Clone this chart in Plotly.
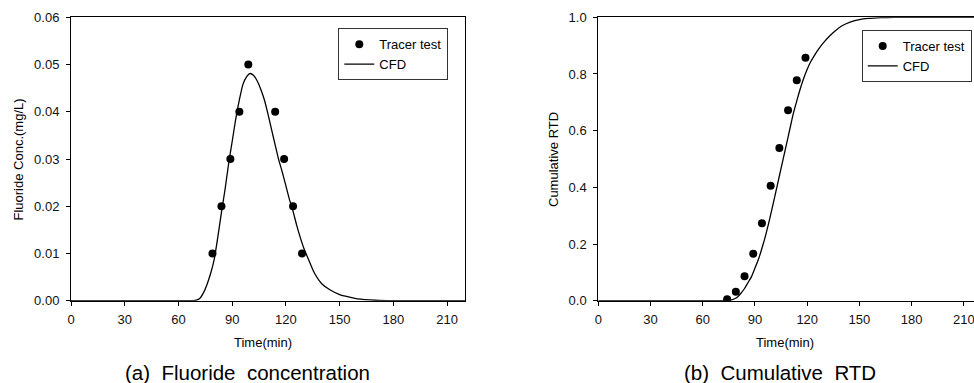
import plotly.graph_objects as go

# ---------------- data ----------------
# (a) Fluoride concentration
tracer_time_a = [79, 84, 89, 94, 99, 114, 119, 124, 129]
tracer_conc = [0.01, 0.02, 0.03, 0.04, 0.05, 0.04, 0.03, 0.02, 0.01]

cfd_time_a = [0, 60, 68, 70, 72, 74, 76, 78, 80, 82, 84, 86, 88, 90, 92, 94, 96, 98,
              100, 102, 104, 106, 108, 110, 112, 114, 116, 118, 120, 122, 124, 126,
              128, 130, 133, 136, 140, 145, 150, 155, 160, 170, 180, 220]
cfd_conc = [0, 0, 0, 0.0001, 0.0005, 0.0017, 0.0035, 0.0058, 0.0088, 0.0135, 0.0187,
            0.0235, 0.0290, 0.0337, 0.0385, 0.0425, 0.0458, 0.0474, 0.0481, 0.0477,
            0.0465, 0.0447, 0.0425, 0.0395, 0.0362, 0.0330, 0.0298, 0.0272, 0.0243,
            0.0214, 0.0189, 0.0160, 0.0134, 0.0111, 0.0084, 0.0058, 0.0036, 0.0022,
            0.0013, 0.0008, 0.0004, 0.0001, 0, 0]

# (b) Cumulative RTD
tracer_time_b = [74, 79, 84, 89, 94, 99, 104, 109, 114, 119]
tracer_cum = [0.005, 0.032, 0.086, 0.166, 0.273, 0.406, 0.539, 0.672, 0.778, 0.857]

cfd_time_b = [0, 60, 70, 74, 76, 78, 80, 82, 84, 86, 88, 90, 92, 94, 96, 98, 100, 102,
              104, 106, 108, 110, 112, 114, 116, 118, 120, 122, 124, 126, 128, 130,
              133, 136, 140, 145, 150, 155, 160, 165, 170, 220]
cfd_cum = [0, 0, 0, 0.0005, 0.002, 0.006, 0.013, 0.027, 0.043, 0.064, 0.085, 0.115,
           0.146, 0.185, 0.228, 0.277, 0.330, 0.385, 0.440, 0.495, 0.550, 0.605, 0.660,
           0.705, 0.748, 0.785, 0.817, 0.843, 0.864, 0.883, 0.900, 0.915, 0.935, 0.952,
           0.970, 0.984, 0.992, 0.996, 0.998, 0.999, 1.0, 1.0]

x_ticks = [0, 30, 60, 90, 120, 150, 180, 210]

# ---------------- figure ----------------
W, H = 974, 383
FONT = "Liberation Sans, Arial, sans-serif"

def px_x(p):
    return p / W

def px_y(p):
    return 1 - p / H

fig = go.Figure()

fig.add_trace(go.Scatter(x=tracer_time_a, y=tracer_conc, mode="markers", name="Tracer test",
                         marker=dict(color="black", size=8), xaxis="x", yaxis="y",
                         legend="legend"))
fig.add_trace(go.Scatter(x=cfd_time_a, y=cfd_conc, mode="lines", name="CFD",
                         line=dict(color="black", width=1.3, shape="spline", smoothing=0.6),
                         xaxis="x", yaxis="y", legend="legend"))
fig.add_trace(go.Scatter(x=tracer_time_b, y=tracer_cum, mode="markers", name="Tracer test",
                         marker=dict(color="black", size=8), xaxis="x2", yaxis="y2",
                         legend="legend2"))
fig.add_trace(go.Scatter(x=cfd_time_b, y=cfd_cum, mode="lines", name="CFD",
                         line=dict(color="black", width=1.3, shape="spline", smoothing=0.6),
                         xaxis="x2", yaxis="y2", legend="legend2"))

axis_common = dict(showgrid=False, zeroline=False, showline=True, linecolor="black",
                   linewidth=1, ticks="outside", ticklen=4, tickcolor="black",
                   tickfont=dict(family=FONT, size=13, color="#111"))

ydom = [px_y(300.7), px_y(17.3)]

fig.update_layout(
    width=W, height=H,
    paper_bgcolor="white", plot_bgcolor="white",
    margin=dict(l=0, r=0, t=0, b=0, autoexpand=False),
    font=dict(family=FONT, size=13, color="black"),
    xaxis=dict(domain=[px_x(71), px_x(465)], range=[0, 220], tickvals=x_ticks,
               mirror=True, anchor="y", ticklabelstandoff=3, **axis_common),
    yaxis=dict(domain=ydom, range=[0, 0.06], dtick=0.01, tickformat=".2f",
               mirror=True, anchor="x", ticklabelstandoff=4, **axis_common),
    xaxis2=dict(domain=[px_x(598.3), 1.0], range=[0, (974 - 598.3) / 1.741],
                tickvals=x_ticks, mirror=True, anchor="y2", ticklabelstandoff=3,
                ticklabeloverflow="allow", **axis_common),
    yaxis2=dict(domain=ydom, range=[0, 1.0], dtick=0.2, tickformat=".1f",
                mirror=False, anchor="x2", ticklabelstandoff=4, **axis_common),
    legend=dict(x=px_x(338.3), y=px_y(28.3), xanchor="left", yanchor="top",
                bgcolor="white", bordercolor="#333", borderwidth=1,
                font=dict(family=FONT, size=13, color="black"), tracegroupgap=0),
    legend2=dict(x=px_x(861.7), y=px_y(30), xanchor="left", yanchor="top",
                 bgcolor="white", bordercolor="#333", borderwidth=1,
                 font=dict(family=FONT, size=13, color="black"), tracegroupgap=0),
    showlegend=True,
)

NB = "\u00a0"
annotations = [
    dict(text="Time(min)", x=px_x(263), y=px_y(342), font=dict(size=13)),
    dict(text="Time(min)", x=px_x(785), y=px_y(342), font=dict(size=13)),
    dict(text="Fluoride Conc.(mg/L)", x=px_x(17.5), y=px_y(160), textangle=-90,
         font=dict(size=13)),
    dict(text="Cumulative RTD", x=px_x(553), y=px_y(160), textangle=-90,
         font=dict(size=13)),
    dict(text="(a)" + NB * 2 + "Fluoride" + NB * 2 + "concentration", x=px_x(247),
         y=px_y(372), font=dict(size=20.5)),
    dict(text="(b)" + NB * 2 + "Cumulative" + NB * 2 + "RTD", x=px_x(780), y=px_y(372),
         font=dict(size=20.5)),
]
for a in annotations:
    a.update(xref="paper", yref="paper", showarrow=False, xanchor="center",
             yanchor="middle")
    a["font"].update(family=FONT, color="black")
fig.update_layout(annotations=annotations)

fig.write_html("out.html",
               config={"displayModeBar": False},
               post_script="document.body.style.margin='0';"
                           "document.body.style.overflow='hidden';")
